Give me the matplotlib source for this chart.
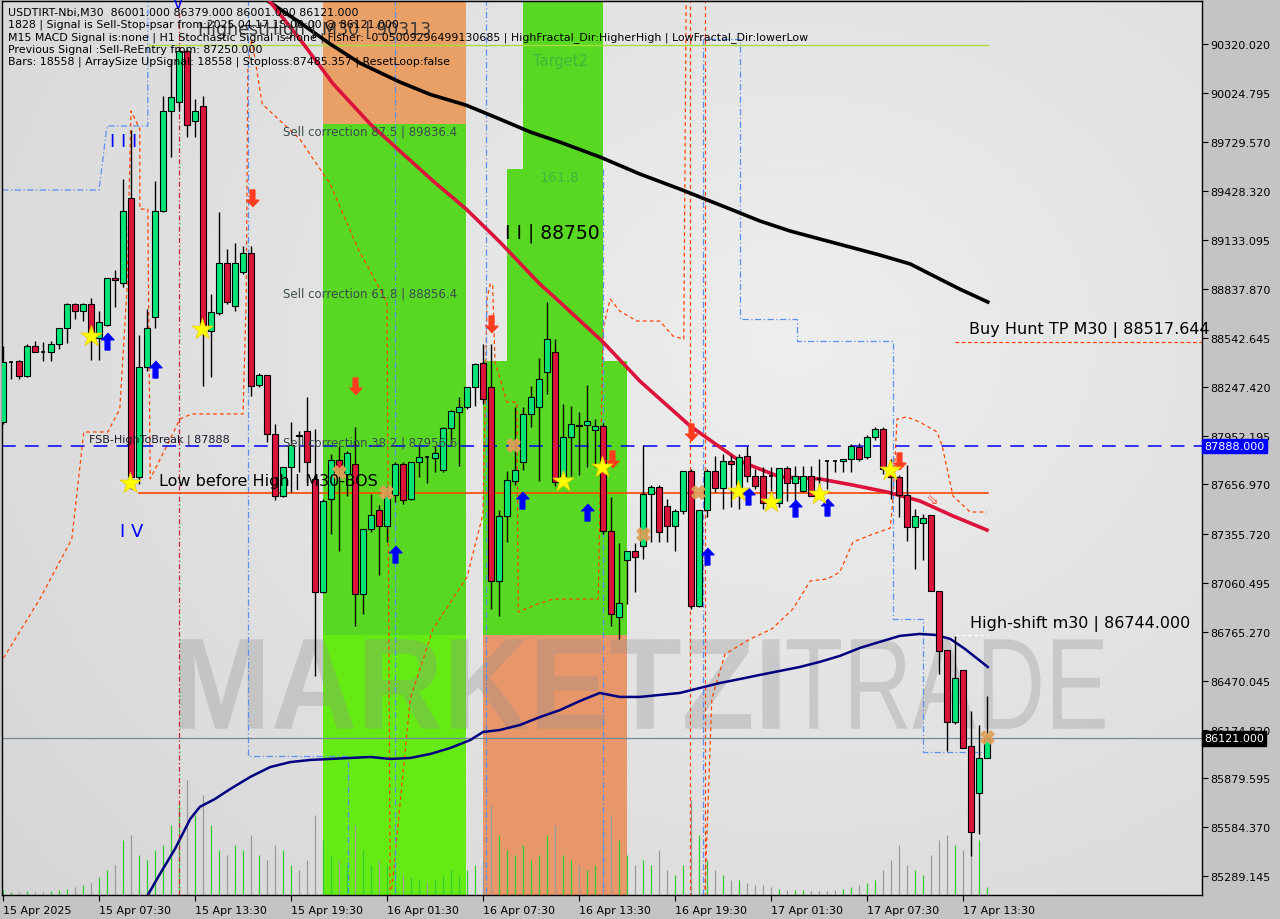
import numpy as np
import matplotlib
matplotlib.use("Agg")
import matplotlib.pyplot as plt
from matplotlib.patches import Rectangle, PathPatch
from matplotlib.textpath import TextPath
from matplotlib.font_manager import FontProperties
from matplotlib.transforms import Affine2D, blended_transform_factory

# ---------------- data: USDTIRT-Nbi M30 candles (bar 0 = 15 Apr 2025) ----------------
opens = [88034, 88397, 88403, 88312, 88494, 88458, 88458, 88506, 88603, 88748,
         88706, 88748, 88542, 88621, 88905, 88875, 89389, 87702, 88367, 88669,
         89310, 89915, 89969, 90278, 89854, 89945, 88585, 88693, 88996, 88736,
         88941, 89056, 88258, 88319, 87962, 87587, 87762, 87956, 87980, 87690,
         87006, 87569, 87804, 87720, 87780, 86994, 87387, 87502, 87405, 87593,
         87780, 87569, 87792, 87823, 87817, 87744, 87998, 88095, 88125, 88246,
         88391, 88246, 87073, 87466, 87678, 87792, 88083, 88125, 88337, 88458,
         87708, 87944, 88016, 88016, 87986, 88010, 87375, 86855, 87200, 87254,
         87285, 87599, 87641, 87526, 87405, 87496, 87738, 86922, 87502, 87738,
         87635, 87798, 87605, 87829, 87708, 87708, 87708, 87545, 87756, 87665,
         87617, 87708, 87690, 87798, 87798, 87798, 87810, 87883, 87823, 87944,
         87992, 87750, 87702, 87593, 87399, 87424, 87472, 87013, 86656, 86220,
         86535, 86075, 85791, 86001]
highs = [88494, 88403, 88409, 88506, 88524, 88518, 88524, 88603, 88754, 88754,
         88754, 88784, 88706, 88905, 88953, 89504, 89800, 88560, 88718, 89492,
         90006, 90229, 90302, 90290, 89987, 90006, 88808, 89304, 89080, 89117,
         89099, 89099, 88331, 88319, 88022, 87762, 88034, 87980, 88186, 87992,
         87569, 87841, 87889, 87859, 88004, 87387, 87599, 87532, 87647, 87792,
         87792, 87792, 87889, 87829, 87889, 88004, 88107, 88186, 88246, 88391,
         88506, 88506, 87502, 87738, 88125, 88125, 88252, 88421, 88760, 88536,
         88143, 88131, 88095, 88258, 88052, 88028, 87581, 87303, 87254, 87303,
         87895, 87653, 87653, 87569, 87508, 87738, 87750, 87502, 87750, 87829,
         87841, 87835, 87841, 87889, 87750, 87762, 87762, 87756, 87768, 87768,
         87768, 87768, 87810, 87804, 87804, 87810, 87901, 87907, 87956, 88004,
         88004, 87810, 87714, 87774, 87508, 87478, 87472, 87013, 86656, 86740,
         86535, 86287, 86202, 86379]
lows = [88022, 88294, 88294, 88306, 88458, 88403, 88403, 88476, 88512, 88657,
        88645, 88409, 88409, 88615, 88730, 88851, 87629, 87659, 88343, 88603,
        89304, 89637, 89915, 89758, 89758, 88252, 88306, 88681, 88748, 88706,
        88929, 88192, 88246, 87913, 87563, 87581, 87611, 87732, 87671, 86498,
        87000, 87357, 87254, 87587, 86801, 86873, 87369, 87109, 87309, 87551,
        87539, 87563, 87702, 87665, 87732, 87732, 87889, 87768, 88113, 88131,
        88143, 86904, 86861, 87309, 87653, 87744, 88004, 87678, 88204, 87647,
        87690, 87708, 87714, 87762, 87762, 87357, 86801, 86722, 86934, 87006,
        87206, 87309, 87309, 87309, 87254, 87478, 86904, 86916, 87460, 87611,
        87508, 87520, 87508, 87671, 87629, 87508, 87551, 87520, 87557, 87557,
        87611, 87587, 87629, 87629, 87732, 87732, 87732, 87798, 87810, 87925,
        87720, 87569, 87460, 87315, 87145, 87200, 87013, 86510, 86045, 86208,
        86063, 85410, 85543, 86001]
closes = [88397, 88397, 88312, 88494, 88458, 88455, 88506, 88603, 88748, 88706,
          88748, 88578, 88639, 88905, 88893, 89310, 87702, 88367, 88603, 89310,
          89915, 90000, 90278, 89830, 89915, 88597, 88700, 88996, 88760, 88996,
          89056, 88252, 88319, 87962, 87587, 87762, 87895, 87950, 87792, 87006,
          87557, 87804, 87750, 87847, 86994, 87387, 87472, 87405, 87587, 87780,
          87563, 87792, 87823, 87820, 87847, 87998, 88101, 88125, 88246, 88385,
          88174, 87073, 87466, 87684, 87744, 88083, 88186, 88294, 88536, 87671,
          87944, 88022, 88012, 88040, 88010, 87375, 86873, 86940, 87254, 87218,
          87599, 87641, 87369, 87405, 87496, 87738, 86922, 87502, 87738, 87635,
          87798, 87780, 87823, 87708, 87647, 87545, 87705, 87756, 87665, 87708,
          87708, 87587, 87688, 87795, 87795, 87810, 87889, 87810, 87944, 87992,
          87750, 87702, 87593, 87399, 87466, 87454, 87013, 86650, 86220, 86486,
          86063, 85555, 86003, 86121]
volumes = [5, 3, 3, 4, 3, 3, 4, 5, 6, 8,
           10, 12, 18, 25, 30, 55, 60, 40, 35, 45,
           50, 70, 90, 115, 80, 100, 70, 45, 40, 50,
           45, 60, 40, 35, 50, 45, 30, 25, 35, 80,
           55, 40, 35, 30, 70, 45, 30, 35, 30, 25,
           20, 18, 15, 12, 15, 20, 25, 20, 25, 30,
           35, 90, 60, 45, 40, 50, 35, 40, 60, 70,
           40, 35, 30, 25, 30, 70, 80, 55, 40, 30,
           35, 30, 45, 25, 20, 30, 95, 60, 35, 25,
           20, 15, 15, 12, 10, 10, 8, 6, 5, 5,
           5, 4, 4, 4, 5, 6, 8, 10, 12, 15,
           25, 35, 50, 30, 25, 20, 40, 55, 60, 50,
           45, 60, 55, 8]

time_ticks = list(range(0, 121, 12))
time_labels = ["15 Apr 2025", "15 Apr 07:30", "15 Apr 13:30", "15 Apr 19:30", "16 Apr 01:30",
               "16 Apr 07:30", "16 Apr 13:30", "16 Apr 19:30", "17 Apr 01:30", "17 Apr 07:30",
               "17 Apr 13:30"]
price_ticks = [90320.020, 90024.795, 89729.570, 89428.320, 89133.095, 88837.870, 88542.645,
               88247.420, 87952.195, 87656.970, 87355.720, 87060.495, 86765.270, 86470.045,
               86174.820, 85879.595, 85584.370, 85289.145]

# moving averages (bar, price) knots
ma_black_x = [31.5, 32.75, 37.1, 40.9, 44.6, 49.6, 53.4, 57.9, 62.1, 65.9, 69.6, 74.6, 79.6,
              84.6, 87.1, 90.9, 94.6, 98.4, 102.1, 105.9, 109.6, 113.4, 117.1, 119.6, 123.1]
ma_black_y = [90652, 90592, 90450, 90320, 90205, 90090, 90015, 89950, 89866, 89788, 89727,
              89637, 89534, 89443, 89395, 89322, 89250, 89189, 89141, 89092, 89044, 88990,
              88899, 88838, 88760]
ma_red_x = [32.4, 33.1, 37.1, 41.25, 45.9, 49.6, 53.75, 57.9, 62.1, 67.1, 69.6, 75.0, 79.6,
            85.9, 89.6, 92.1, 97.1, 102.1, 106.25, 110.5, 114.6, 118.75, 123.0]
ma_red_y = [90652, 90592, 90350, 90080, 89836, 89673, 89492, 89322, 89123, 88869, 88760,
            88518, 88282, 88010, 87883, 87798, 87702, 87690, 87653, 87611, 87557, 87466, 87381]
ma_navy_x = [18.1, 19.6, 21.5, 23.4, 24.6, 26.5, 28.4, 30.9, 33.4, 35.9, 38.4, 40.9, 43.4,
             45.9, 48.4, 50.9, 53.4, 55.9, 58.4, 60.0, 62.1, 64.6, 67.1, 69.6, 72.1, 74.6,
             77.1, 79.6, 82.1, 84.6, 87.1, 89.6, 92.1, 94.6, 97.1, 99.6, 102.1, 104.6, 107.1,
             109.6, 112.1, 114.6, 116.5, 118.4, 120.25, 123.1]
ma_navy_y = [85174, 85300, 85453, 85634, 85707, 85755, 85815, 85888, 85948, 85978, 85991,
             85997, 86003, 86009, 85997, 86003, 86027, 86063, 86111, 86160, 86172, 86202,
             86250, 86292, 86347, 86396, 86372, 86372, 86384, 86396, 86426, 86456, 86480,
             86505, 86529, 86553, 86584, 86620, 86668, 86705, 86741, 86753, 86747, 86723,
             86662, 86553]

# signal zones: (bar from, bar to, price low, price high, colour)
zones = [(40.0, 57.875, 89836.4, 90700, '#e9a067'),
         (40.0, 57.875, 86744, 89836.4, '#58d822'),
         (40.0, 57.875, 85100, 86744, '#66ea14'),
         (65.0, 75.0, 89564, 90700, '#58d822'),
         (63.0, 75.0, 88403, 89564, '#58d822'),
         (60.0, 78.0, 86744, 88403, '#58d822'),
         (60.0, 78.0, 85100, 86744, '#e8976a')]

# trailing / envelope lines (bar, price)
orange_paths = [
    [(-0.4, 86571), (4.6, 86964), (8.6, 87327), (10.1, 87974), (13.1, 87974), (14.6, 88113),
     (15.5, 88839), (16.0, 89915), (17.1, 89806), (17.1, 89322), (18.1, 89322), (18.4, 87690),
     (20.9, 87931), (22.1, 88052), (23.6, 88083), (30.0, 88083), (30.4, 88778), (30.6, 90169),
     (31.1, 90350), (32.4, 89957), (37.1, 89745), (40.9, 89473), (44.4, 89080), (48.0, 88760),
     (48.4, 85174)],
    [(48.6, 85211), (50.9, 86360), (53.75, 86783), (58.0, 87097), (60.0, 87478), (60.5, 88778),
     (60.9, 88869), (61.2, 88869), (61.5, 88397), (63.0, 88155), (64.25, 88155), (64.4, 86885),
     (66.5, 86928), (68.75, 86964), (74.4, 86964), (75.0, 88597), (75.9, 88778), (77.1, 88705),
     (79.25, 88645), (82.1, 88645), (83.75, 88554), (85.1, 88536), (85.4, 90652)],
    [(85.9, 90652), (85.9, 85174)],
    [(87.75, 90652), (87.75, 85174)],
    [(87.75, 85211), (88.6, 86360), (90.25, 86631), (93.4, 86722), (96.1, 86783), (98.75, 86904),
     (100.9, 87073), (103.0, 87085), (104.6, 87127), (106.25, 87309), (108.75, 87357),
     (110.9, 87393), (111.25, 87569), (111.75, 88052), (113.0, 88065), (114.6, 88034),
     (116.75, 87974), (117.4, 87889), (118.75, 87587), (120.9, 87490), (123.0, 87490)],
]
blue_paths = [
    [(-0.1, 89437), (12.0, 89437), (13.0, 89824), (18.1, 89824), (18.1, 90652)],
    [(30.6, 90652), (30.6, 86015), (39.1, 86015), (43.1, 86015), (43.1, 85174)],
    [(49.0, 90652), (49.0, 85174)],
    [(60.4, 90652), (60.4, 85174)],
    [(75.0, 89564), (75.0, 85174)],
    [(87.5, 85174), (87.5, 90350), (92.1, 90350), (92.1, 88657), (99.25, 88657), (99.25, 88524),
     (111.25, 88524), (111.25, 86843), (115.0, 86843), (115.0, 86039), (123.0, 86039)],
]

# signal markers (bar, price)
buy_arrows = [(13.0, 88524), (19.0, 88355), (49.0, 87236), (64.9, 87563), (73.0, 87490),
              (88.0, 87224), (93.1, 87587), (99.0, 87514), (103.0, 87520)]
sell_arrows = [(31.1, 89389), (44.0, 88252), (61.0, 88627), (76.1, 87810), (86.0, 87974),
               (112.0, 87798)]
stars = [(11.0, 88554), (15.9, 87665), (24.9, 88597), (70.0, 87678), (74.9, 87762),
         (91.9, 87617), (96.0, 87551), (102.0, 87599), (110.9, 87744)]
crosses = [(42.0, 87732), (47.9, 87611), (63.75, 87895), (80.0, 87357), (86.9, 87611),
           (123.0, 86130)]

fsb_level = 87888
low_before_high = 87605
highest_high = 90313
buy_hunt_tp = 88517.644
high_shift = 86744
last_close = 86121

# ---------------- figure ----------------
fig = plt.figure(figsize=(12.8, 9.2), dpi=100, facecolor='#c4c4c4')
ax = fig.add_axes([2 / 1280, 24 / 920, 1200 / 1280, 894 / 920])
ax.set_xlim(-0.125, 149.875)
ax.set_ylim(85174.3, 90580)

# background gradient
gx, gy = np.meshgrid(np.linspace(0, 1, 300), np.linspace(0, 1, 300))
dist = np.sqrt(((gx - 0.66) * 1.1) ** 2 + (gy - 0.62) ** 2)
bg = 0.93 - 0.1 * dist
ax.imshow(bg, extent=[0, 1, 0, 1], transform=ax.transAxes, cmap='gray', vmin=0, vmax=1,
          aspect='auto', origin='lower', zorder=0, interpolation='bilinear')

for x0, x1, p0, p1, col in zones:
    ax.add_patch(Rectangle((x0, p0), x1 - x0, p1 - p0, facecolor=col, edgecolor='none', zorder=1))

# watermark
def word_patch(text, box, weight):
    fp = FontProperties(family='Liberation Sans', weight=weight)
    tp = TextPath((0, 0), text, size=1, prop=fp)
    ext = tp.get_extents()
    bx0, by0, bx1, by1 = box
    tr = (Affine2D().translate(-ext.x0, -ext.y0)
          .scale((bx1 - bx0) / ext.width, (by1 - by0) / ext.height).translate(bx0, by0))
    return PathPatch(tr.transform_path(tp), transform=ax.transAxes, facecolor='#8c8c8c',
                     edgecolor='none', alpha=0.3, zorder=1.5)

ax.add_patch(word_patch("MARKETZI", (0.148, 0.186, 0.648, 0.286), 'bold'))
ax.add_patch(word_patch("TRADE", (0.654, 0.186, 0.919, 0.286), 'normal'))

# volumes
xb = np.arange(len(opens))
vol_cols = ['#32cd32' if c >= o else '#9a9a9a' for o, c in zip(opens, closes)]
ax.vlines(xb, 0, np.array(volumes) / 894, colors=vol_cols, lw=0.9,
          transform=ax.get_xaxis_transform(), zorder=1.8)

# trailing lines
for path in orange_paths:
    px, py = zip(*path)
    ax.plot(px, py, color='#ff4500', lw=0.9, ls=(0, (3, 2.5)), zorder=2)
for path in blue_paths:
    px, py = zip(*path)
    ax.plot(px, py, color='#5b8ff0', lw=0.9, ls=(0, (5, 2, 1, 2)), zorder=2)
ax.axvline(22.06, color='#c8283c', lw=0.9, ls=(0, (4, 2, 1, 2)), zorder=2)

# levels
ax.plot([18.1, 123.1], [highest_high] * 2, color='#a8dc3c', lw=1, zorder=2.1)
ax.axhline(fsb_level, color='#0000ff', lw=1.1, ls=(0, (9, 6)), zorder=2.1)
ax.plot([17.0, 123.1], [low_before_high] * 2, color='#ff4500', lw=1.2, zorder=2.1)
ax.plot([119.0, 149.9], [buy_hunt_tp] * 2, color='#ff4500', lw=0.9, ls=(0, (3, 2)), zorder=2.1)
ax.plot([119.0, 123.1], [high_shift] * 2, color='white', lw=0.9, ls=(0, (3, 2)), zorder=2.1)
ax.axhline(last_close, color='#778899', lw=0.9, zorder=2.1)

# moving averages
ax.plot(ma_black_x, ma_black_y, color='black', lw=2.6, zorder=3)
ax.plot(ma_red_x, ma_red_y, color='#dc143c', lw=2.6, zorder=3)
ax.plot(ma_navy_x, ma_navy_y, color='#000080', lw=1.8, zorder=3)

# candles
for i, (o, h, l, c) in enumerate(zip(opens, highs, lows, closes)):
    ax.vlines(i, l, h, color='black', lw=1, zorder=4)
    if abs(c - o) < 4:
        ax.hlines(o, i - 0.3, i + 0.3, color='black', lw=1.2, zorder=4.1)
    else:
        col = '#00e676' if c > o else '#dc143c'
        ax.add_patch(Rectangle((i - 0.32, min(o, c)), 0.64, abs(c - o), facecolor=col,
                               edgecolor='black', lw=0.8, zorder=4.1))

# markers
up_arrow = [(0, 1), (0.75, 0.2), (0.28, 0.2), (0.28, -1), (-0.28, -1), (-0.28, 0.2), (-0.75, 0.2)]
down_arrow = [(x, -y) for x, y in up_arrow]
bx, by = zip(*buy_arrows)
ax.scatter(bx, by, marker=up_arrow, s=150, color='#0000ff', zorder=5)
sx, sy = zip(*sell_arrows)
ax.scatter(sx, sy, marker=down_arrow, s=150, color='#ff3c1e', zorder=5)
tx, ty = zip(*stars)
ax.scatter(tx, ty, marker='*', s=260, color='#ffff00', edgecolors='#e6c800', lw=0.5, zorder=5)
cx, cy = zip(*crosses)
ax.scatter(cx, cy, marker='X', s=90, color='#e0a058', alpha=0.9, zorder=5)
ax.text(21.9, 90562, 'V', color='#0000ff', fontsize=11, ha='center', va='center', zorder=5)
ax.text(116.1, 87569, '⇘', color='#ff6347', fontsize=11, ha='center', va='center', zorder=5)

# chart labels
ax.text(10.75, fsb_level + 15, 'FSB-HighToBreak | 87888', fontsize=8, color='#1a1a2a',
        va='bottom', zorder=6)
ax.text(19.5, 87678, 'Low before High | M30-BOS', fontsize=11.5, color='black', va='center', zorder=6)
for lvl, lab in [(89794, 'Sell correction 87.5 | 89836.4'), (88814, 'Sell correction 61.8 | 88856.4'),
                 (87913, 'Sell correction 38.2 | 87956.6')]:
    ax.text(35.0, lvl, lab, fontsize=8.5, color='#3c4c4c', va='center', zorder=6)
ax.text(62.75, 89183, 'I I | 88750', fontsize=13.5, color='black', va='center', zorder=6)
ax.text(13.4, 89733, 'I I I', fontsize=13, color='#0000ff', va='center', zorder=6)
ax.text(14.6, 87375, 'I V', fontsize=13, color='#0000ff', va='center', zorder=6)
ax.text(24.4, 90411, 'HighestHigh | M30 | 90313', fontsize=12.5, color='#3a3a3a', va='center', zorder=6)
ax.text(120.75, 88597, 'Buy Hunt TP M30 | 88517.644', fontsize=11.5, color='black', va='center', zorder=6)
ax.text(120.9, 86819, 'High-shift m30 | 86744.000', fontsize=11.5, color='black', va='center', zorder=6)
ax.text(66.25, 90223, 'Target2', fontsize=10.5, color='#3cb83c', va='center', zorder=6)
ax.text(67.1, 89516, '161.8', fontsize=10, color='#3cb83c', va='center', zorder=6)

info = ["USDTIRT-Nbi,M30  86001.000 86379.000 86001.000 86121.000",
        "1828 | Signal is Sell-Stop-psar from:2025.04.17 15:00:00 @ 86121.000",
        "M15 MACD Signal is:none | H1 Stochastic Signal is:none | Fisher: -0.05009296499130685 | "
        "HighFractal_Dir:HigherHigh | LowFractal_Dir:lowerLow",
        "Previous Signal :Sell-ReEntry from: 87250.000",
        "Bars: 18558 | ArraySize UpSignal: 18558 | Stoploss:87485.357 | ResetLoop:false"]
for k, line in enumerate(info):
    ax.text(6 / 1200, 1 - (11 + 12.2 * k) / 894, line, transform=ax.transAxes, fontsize=7.9,
            color='black', va='center', zorder=7)

# axes styling
for sp in ax.spines.values():
    sp.set_color('black')
    sp.set_linewidth(1)
ax.yaxis.tick_right()
ax.set_yticks(price_ticks)
ax.set_yticklabels([f"{p:.3f}" for p in price_ticks])
ax.set_xticks(time_ticks)
ax.set_xticklabels(time_labels, ha='left')
ax.tick_params(axis='both', length=4, width=0.8, color='black', labelsize=8, direction='out')
ax.tick_params(axis='y', pad=2)
ax.tick_params(axis='x', pad=3)

trans = blended_transform_factory(ax.transAxes, ax.transData)
ax.text(1.002, fsb_level, '87888.000', transform=trans, fontsize=8, color='white',
        va='center', ha='left', zorder=8, clip_on=False,
        bbox=dict(boxstyle='square,pad=0.2', fc='#0000ff', ec='#0000ff'))
ax.text(1.002, last_close, '86121.000', transform=trans, fontsize=8, color='white',
        va='center', ha='left', zorder=8, clip_on=False,
        bbox=dict(boxstyle='square,pad=0.2', fc='black', ec='black'))

fig.savefig('out.png', dpi=100, facecolor=fig.get_facecolor())
